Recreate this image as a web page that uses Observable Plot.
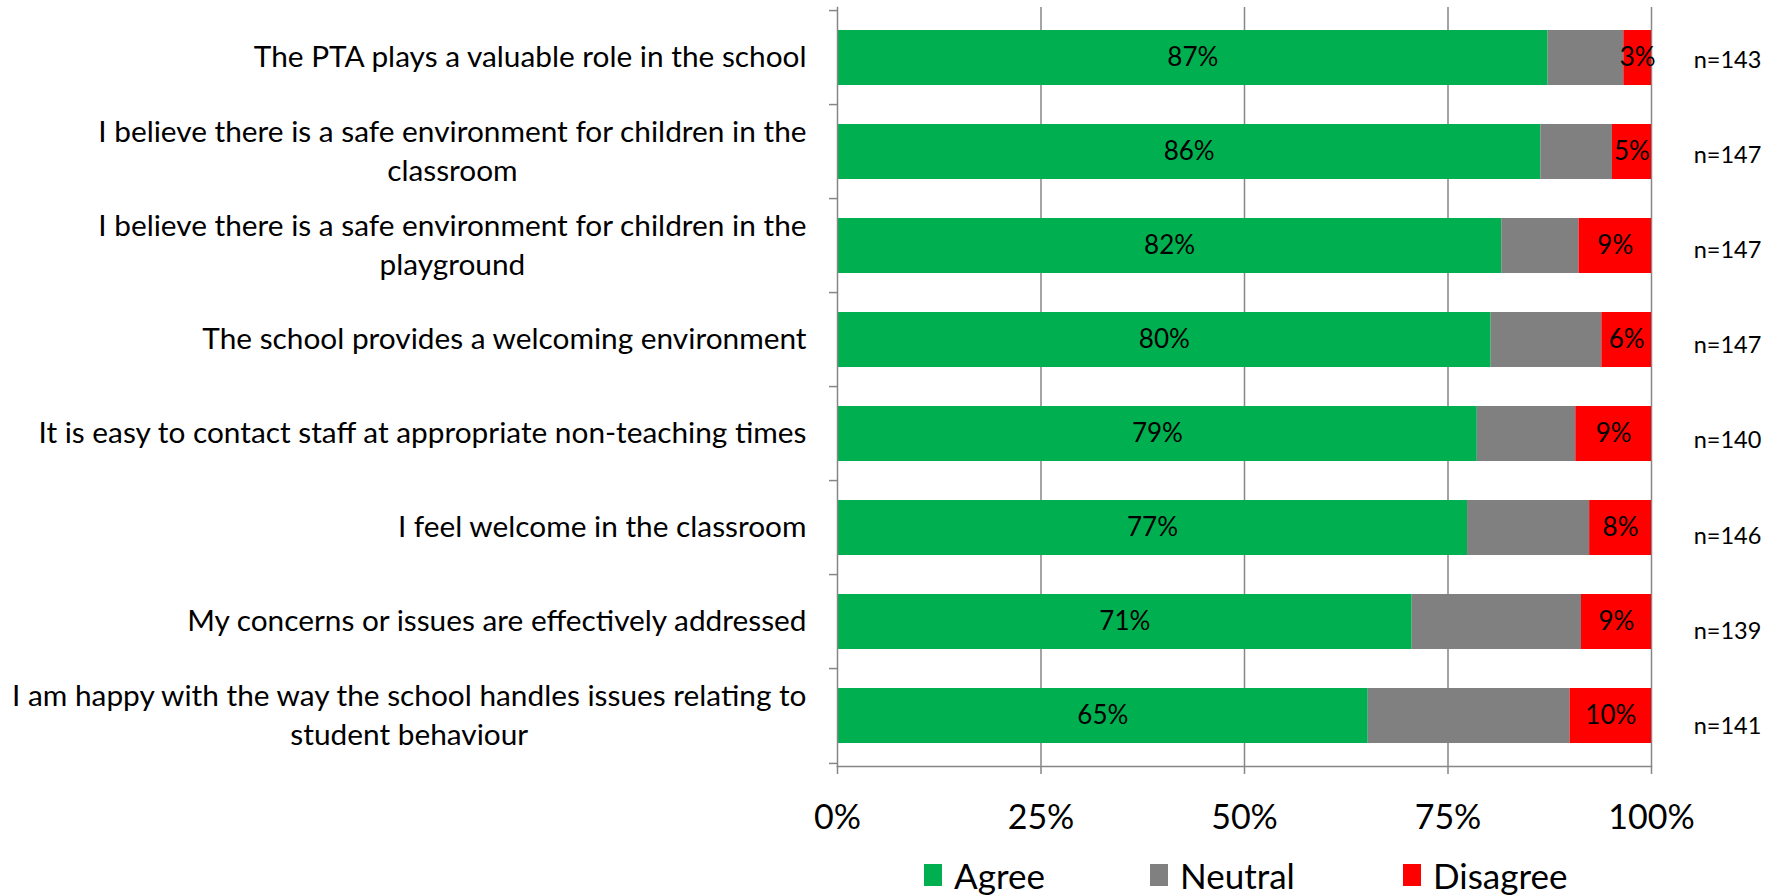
<!DOCTYPE html>
<html><head><meta charset="utf-8">
<script src="https://cdn.jsdelivr.net/npm/d3@7"></script>
<script src="https://cdn.jsdelivr.net/npm/@observablehq/plot@0.6"></script>
<style>
body{margin:0;background:#fff;font-family:Lato,"Open Sans",sans-serif;}
#chart svg{display:block;}
#legend{position:relative;height:56px;width:1777px;}
.item{position:absolute;top:16px;height:38px;display:flex;align-items:center;font-size:35px;color:#000;line-height:1;}
.sw{width:18px;height:22px;margin-right:12px;}
</style></head><body>
<div id="chart"></div>
<div id="legend"></div>
<script>
const statements = [
  "The PTA plays a valuable role in the school",
  "I believe there is a safe environment for children in the\nclassroom",
  "I believe there is a safe environment for children in the\nplayground",
  "The school provides a welcoming environment",
  "It is easy to contact staff at appropriate non-teaching times",
  "I feel welcome in the classroom",
  "My concerns or issues are effectively addressed",
  "I am happy with the way the school handles issues relating to\nstudent behaviour"
];
const agree    = [87.3, 86.4, 81.6, 80.3, 78.6, 77.4, 70.6, 65.2];
const neutral  = [9.3, 8.8, 9.5, 13.6, 12.1, 15.0, 20.8, 24.8];
const disagree = [3.4, 4.8, 8.9, 6.1, 9.3, 7.6, 8.6, 10.0];
const respondents = [143, 147, 147, 147, 140, 146, 139, 141];
const responses = ["Agree", "Neutral", "Disagree"];
const colors = ["#00B050", "#808080", "#FF0000"];
const xTicks = [0, 25, 50, 75, 100];

const series = {Agree: agree, Neutral: neutral, Disagree: disagree};
const rows = statements.flatMap((s, i) => responses.map(r => ({statement: s, response: r, value: series[r][i]})));
const counts = statements.map((s, i) => ({statement: s, n: respondents[i]}));

const W = 1777, H = 840, mt = 7, mb = 74, ml = 837, mr = 126;
const step = (H - mt - mb) / statements.length;
const font = 'Lato, "Open Sans", sans-serif';
const grid = "#868686";

const plot = Plot.plot({
  width: W, height: H,
  marginLeft: ml, marginRight: mr, marginTop: mt, marginBottom: mb,
  style: {fontFamily: font, background: "white", color: "black"},
  x: {domain: [0, 100], axis: null},
  y: {domain: statements, paddingInner: 0.42, paddingOuter: 0.21, axis: null},
  color: {domain: responses, range: colors},
  marks: [
    Plot.ruleX(xTicks.slice(1), {stroke: grid, strokeWidth: 1.5}),
    Plot.barX(rows, Plot.stackX({x: "value", y: "statement", fill: "response", order: responses})),
    Plot.text(rows, Plot.stackX({
      x: "value", y: "statement", z: "response", order: responses,
      text: d => d.response === "Neutral" ? null : Math.round(d.value) + "%",
      fontSize: 26, fill: "black"
    })),
    Plot.text(counts, {x: () => 100, y: "statement", text: d => "n=" + d.n, dx: 76, dy: 2, fontSize: 23.5, fill: "black", className: "n-labels"}),
    Plot.text(statements, {x: () => 0, y: d => d, text: d => d, textAnchor: "end", dx: -31, dy: -3, fontSize: 29.8, lineHeight: 1.29, fill: "black", className: "cat-labels"}),
    Plot.frame({anchor: "left", stroke: grid, strokeWidth: 1.5}),
    Plot.frame({anchor: "bottom", stroke: grid, strokeWidth: 1.5}),
    Plot.axisY({ticks: statements, tickSize: 8, tickFormat: () => "", dy: -step / 2, stroke: grid, strokeWidth: 1.5, label: null}),
    Plot.axisY({ticks: statements.slice(-1), tickSize: 8, tickFormat: () => "", dy: step / 2, stroke: grid, strokeWidth: 1.5, label: null}),
    Plot.axisX({ticks: xTicks, tickSize: 8, tickPadding: 30, tickFormat: d => d + "%", fontSize: 34, stroke: grid, strokeWidth: 1.5, fill: "black", label: null})
  ]
});
document.getElementById("chart").appendChild(plot);

// center wrapped category labels on their first line (like the original)
plot.querySelectorAll(".cat-labels text").forEach(t => {
  const spans = t.querySelectorAll("tspan");
  if (spans.length > 1) {
    const w = spans[0].getComputedTextLength();
    t.setAttribute("text-anchor", "middle");
    t.setAttribute("transform", (t.getAttribute("transform") || "") + ` translate(${-w / 2},0)`);
  }
});
// the n= labels in the original drift slightly downward row by row
plot.querySelectorAll(".n-labels text").forEach((t, i) => {
  t.setAttribute("transform", (t.getAttribute("transform") || "") + ` translate(0,${i * 1.2})`);
});

const legend = document.getElementById("legend");
const legendX = [924, 1150, 1403];
responses.forEach((r, i) => {
  const it = document.createElement("div");
  it.className = "item";
  it.style.left = legendX[i] + "px";
  it.innerHTML = `<div class="sw" style="background:${colors[i]}"></div><span>${r}</span>`;
  legend.appendChild(it);
});
</script>
</body></html>
